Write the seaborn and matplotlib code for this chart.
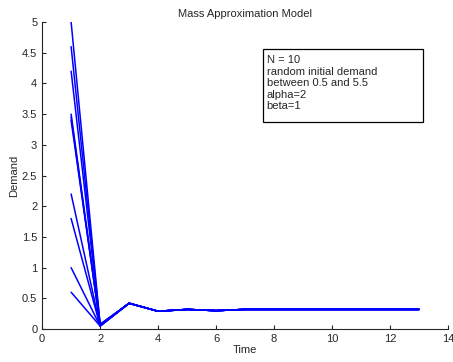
import numpy as np
import pandas as pd
import matplotlib
matplotlib.use("Agg")
import matplotlib.pyplot as plt
from matplotlib.patches import Rectangle
import seaborn as sns

# time steps and demand per agent
time = list(range(1, 14))
initial_demand = [5.0, 4.6, 4.2, 3.5, 3.45, 3.4, 2.2, 1.8, 1.0, 0.6]
second_step = [0.08, 0.07, 0.07, 0.06, 0.06, 0.06, 0.05, 0.05, 0.05, 0.05]
later_demand = [0.42, 0.29, 0.32, 0.30, 0.32, 0.32, 0.32, 0.32, 0.32, 0.32, 0.32]

rows = []
for agent, (d0, d1) in enumerate(zip(initial_demand, second_step)):
    values = [d0, d1] + later_demand
    for t, v in zip(time, values):
        rows.append({"agent": agent, "Time": t, "Demand": v})
df = pd.DataFrame(rows)

sns.set_style("ticks")
plt.rcParams["font.family"] = ["Liberation Sans", "DejaVu Sans"]

fig = plt.figure(figsize=(4.53, 3.62), dpi=100)
ax = fig.add_axes([0.093, 0.091, 0.896, 0.848])

sns.lineplot(data=df, x="Time", y="Demand", units="agent", estimator=None,
             color="#0000ff", linewidth=1.1, ax=ax)

ax.set_xlim(0, 14)
ax.set_ylim(0, 5)
ax.set_xticks(range(0, 15, 2))
ax.set_yticks(np.arange(0, 5.01, 0.5))
ax.set_yticklabels(["0", "0.5", "1", "1.5", "2", "2.5", "3", "3.5", "4", "4.5", "5"])
ax.tick_params(direction="in", labelsize=8, length=3, width=0.8)
ax.set_xlabel("Time", fontsize=8, labelpad=1)
ax.set_ylabel("Demand", fontsize=8, labelpad=2)
ax.set_title("Mass Approximation Model", fontsize=8, pad=4)
sns.despine(ax=ax)

# annotation box
ax.add_patch(Rectangle((0.544, 0.674), 0.394, 0.238, transform=ax.transAxes,
                       facecolor="white", edgecolor="black", linewidth=0.9, zorder=5))
ax.text(0.553, 0.893,
        "N = 10\nrandom initial demand\nbetween 0.5 and 5.5\nalpha=2\nbeta=1",
        transform=ax.transAxes, fontsize=8, va="top", ha="left", linespacing=1.2,
        zorder=6)

fig.savefig("out.png", dpi=100)
